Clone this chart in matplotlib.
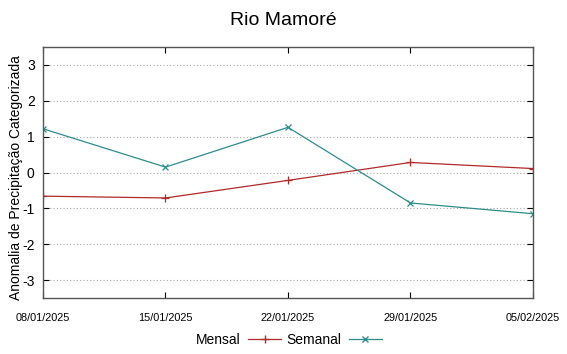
import matplotlib
matplotlib.use("Agg")
import matplotlib.pyplot as plt
from matplotlib.lines import Line2D

plt.rcParams['font.family'] = ['Liberation Sans', 'DejaVu Sans']
plt.rcParams['axes.unicode_minus'] = False

# data
datas = ["08/01/2025", "15/01/2025", "22/01/2025", "29/01/2025", "05/02/2025"]
mensal = [-0.66, -0.71, -0.22, 0.28, 0.11]
semanal = [1.22, 0.15, 1.26, -0.85, -1.15]
yticks = [-3, -2, -1, 0, 1, 2, 3]

cor_mensal = '#b02a2a'
cor_semanal = '#2e8c8c'

fig = plt.figure(figsize=(5.67, 3.54), dpi=100)
ax = fig.add_axes([43 / 567, 1 - 298 / 354, 490 / 567, 251 / 354])

x = list(range(len(datas)))
ax.plot(x, mensal, color=cor_mensal, lw=0.9, marker='+', ms=6, mew=0.9)
ax.plot(x, semanal, color=cor_semanal, lw=0.9, marker='x', ms=5, mew=0.9)

ax.set_xlim(0, len(datas) - 1)
ax.set_ylim(-3.5, 3.5)
ax.set_xticks(x)
ax.set_xticklabels(datas, fontsize=7.8)
ax.set_yticks(yticks)
ax.tick_params(axis='y', labelsize=10, direction='in', length=4, right=True, pad=6)
ax.tick_params(axis='x', direction='in', length=4, top=True, pad=11)
ax.grid(axis='y', color='#aaaaaa', linestyle=(0, (1, 2)), lw=0.8)
for s in ax.spines.values():
    s.set_color('#555555')
    s.set_linewidth(1.0)

# y label sits a bit lower than the axes centre in the reference
fig.text(16 / 567, 1 - 178 / 354, "Anomalia de Precipitação Categorizada",
         rotation=90, ha='center', va='center', fontsize=10)
fig.suptitle("Rio Mamoré", fontsize=14, y=0.965)

# legend at the bottom, text to the left of the line sample
handles = [Line2D([], [], color=cor_mensal, lw=0.9, marker='+', ms=6),
           Line2D([], [], color=cor_semanal, lw=0.9, marker='x', ms=5)]
fig.legend(handles, ["Mensal", "Semanal"], loc='center', bbox_to_anchor=(0.51, 0.04),
           ncol=2, frameon=False, fontsize=10, markerfirst=False,
           handlelength=2.4, columnspacing=0.4, handletextpad=0.5)

fig.savefig("out.png", dpi=100)
